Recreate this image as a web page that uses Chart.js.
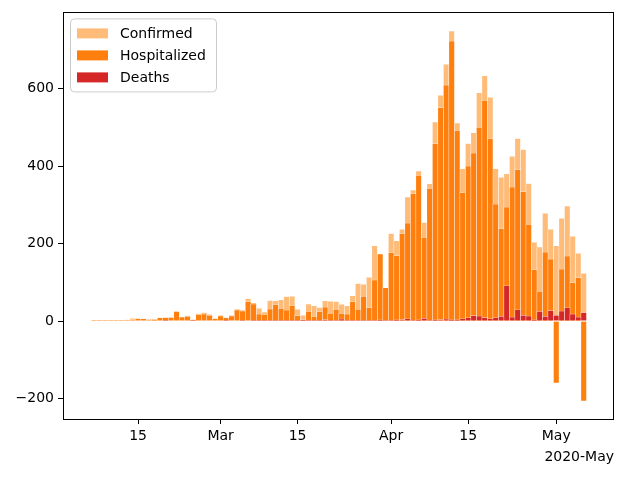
<!DOCTYPE html>
<html>
<head>
  <title>Daily cases</title>
  <script src="https://cdn.jsdelivr.net/npm/chart.js@4/dist/chart.umd.min.js"></script>
  <style>
    html, body { margin: 0; padding: 0; background: #fff; }
    #wrap { width: 626px; height: 477px; position: relative; }
  </style>
</head>
<body>
  <div id="wrap"><canvas id="data-chart"></canvas></div>
  <script>
    // daily values, one per day starting at startDate
    const startDate = '2020-02-07';
    const confirmed = [
      1, 2, 1, 1, 2, 1, 3, 7, 7, 6,
      5, 5, 9, 9, 10, 26, 11, 14, 4, 19,
      22, 17, 7, 15, 9, 15, 31, 28, 58, 47,
      33, 23, 53, 52, 55, 63, 64, 30, 15, 44,
      39, 35, 52, 51, 50, 43, 39, 65, 97, 95,
      113, 194, 173, 86, 226, 207, 237, 320, 338, 387,
      254, 354, 514, 583, 663, 749, 511, 393, 458, 486,
      589, 633, 578, 393, 371, 380, 425, 471, 443, 355,
      203, 191, 278, 237, 194, 265, 297, 219, 175, 123
    ];
    const hospitalized = [
      1, 1, 1, 1, 1, 1, 2, 4, 6, 6,
      4, 3, 8, 9, 9, 24, 10, 12, 3, 16,
      18, 15, 6, 13, 8, 13, 28, 26, 50, 44,
      18, 16, 31, 42, 33, 28, 39, 14, 4, 25,
      11, 24, 36, 20, 30, 20, 18, 50, 30, 64,
      35, 106, 173, 86, 176, 169, 225, 253, 329, 376,
      216, 343, 458, 551, 609, 723, 491, 331, 400, 434,
      500, 570, 471, 302, 238, 294, 346, 391, 334, 250,
      132, 77, 178, 160, -160, 134, 168, 99, 112, -206
    ];
    const deaths = [
      0, 0, 0, 0, 0, 0, 0, 0, 0, 0,
      0, 0, 0, 1, 0, 0, 0, 0, 1, 0,
      0, 0, 0, 0, 1, 0, 0, 1, 0, 1,
      2, 1, 1, 2, 1, 2, 1, 2, 3, 2,
      1, 2, 4, 1, 1, 5, 1, 2, 1, 2,
      1, 2, 3, 1, 2, 3, 4, 6, 2, 3,
      7, 2, 3, 4, 5, 3, 3, 6, 8, 14,
      13, 9, 6, 8, 12, 91, 10, 29, 15, 13,
      3, 25, 12, 27, 15, 26, 34, 18, 10, 22
    ];
    const tickDates = ['2020-02-15', '2020-03-01', '2020-03-15', '2020-04-01', '2020-04-15', '2020-05-01'];
    const tickLabels = ['15', 'Mar', '15', 'Apr', '15', 'May'];
    const yTicks = [-200, 0, 200, 400, 600];

    // x axis works in days since Feb 1
    const dayZero = Date.parse('2020-02-01');
    const dayNum = s => (Date.parse(s) - dayZero) / 86400000;
    const firstDay = dayNum(startDate);
    const toPoints = arr => arr.map((v, i) => ({ x: firstDay + i, y: v }));

    const FONT = '"DejaVu Sans", sans-serif';
    const FSIZE = 14;
    Chart.defaults.font.family = FONT;
    Chart.defaults.font.size = FSIZE;
    Chart.defaults.color = '#000';

    // matplotlib style frame + legend inside the axes
    const framePlugin = {
      id: 'frame',
      afterDatasetsDraw(chart) {
        const { ctx, chartArea: a } = chart;
        ctx.save();
        ctx.strokeStyle = '#000';
        ctx.lineWidth = 1;
        ctx.strokeRect(Math.round(a.left) + 0.5, Math.round(a.top) + 0.5,
          Math.round(a.right - a.left) - 1, Math.round(a.bottom - a.top));

        // legend box
        const x = a.left + 7, y = a.top + 6, w = 146, h = 73;
        ctx.beginPath();
        ctx.roundRect(x + 0.5, y + 0.5, w, h, 4);
        ctx.fillStyle = 'rgba(255,255,255,0.8)';
        ctx.fill();
        ctx.strokeStyle = '#cccccc';
        ctx.stroke();
        ctx.font = FSIZE + 'px ' + FONT;
        ctx.textBaseline = 'middle';
        ctx.textAlign = 'left';
        chart.data.datasets.forEach((ds, i) => {
          const cy = y + 15 + i * 22;
          ctx.fillStyle = ds.backgroundColor;
          ctx.fillRect(x + 7, cy - 5, 31, 10);
          ctx.fillStyle = '#000';
          ctx.fillText(ds.label, x + 50, cy + 1);
        });
        ctx.restore();
      }
    };

    const tickGrid = { display: true, drawOnChartArea: false, drawTicks: true, tickLength: 5, color: '#000', lineWidth: 1, offset: false };

    const ctx = document.getElementById('data-chart').getContext('2d');
    new Chart(ctx, {
      type: 'bar',
      data: {
        datasets: [
          { label: 'Confirmed', data: toPoints(confirmed), backgroundColor: '#ffbb78', order: 3 },
          { label: 'Hospitalized', data: toPoints(hospitalized), backgroundColor: '#ff7f0e', order: 2 },
          { label: 'Deaths', data: toPoints(deaths), backgroundColor: '#d62728', order: 1 },
        ],
      },
      options: {
        responsive: true,
        maintainAspectRatio: false,
        animation: false,
        layout: { padding: { left: 0, top: 12, right: 12, bottom: 0 } },
        datasets: {
          bar: {
            grouped: false,
            barPercentage: 1,
            categoryPercentage: 1,
            borderColor: '#ffffff',
            borderWidth: 0.5,
          },
        },
        plugins: {
          legend: { display: false },
          tooltip: { enabled: false },
        },
        scales: {
          x: {
            type: 'linear',
            offset: false,
            min: 0.36,
            max: 100.5,
            afterBuildTicks: scale => {
              scale.ticks = tickDates.map(d => ({ value: dayNum(d) }));
            },
            afterFit: scale => { scale.height = 58; },
            ticks: {
              autoSkip: false,
              maxRotation: 0,
              padding: 4,
              callback: (value, index) => tickLabels[index],
            },
            grid: tickGrid,
            border: { display: false },
            title: { display: true, text: '2020-May', align: 'end', padding: { top: 0, bottom: 11 } },
          },
          y: {
            min: -253,
            max: 797,
            afterBuildTicks: scale => {
              scale.ticks = yTicks.map(v => ({ value: v }));
            },
            afterFit: scale => { scale.width = 63; },
            ticks: {
              padding: 4,
              callback: v => (v < 0 ? '\u2212' + Math.abs(v) : String(v)),
            },
            grid: tickGrid,
            border: { display: false },
          },
        },
      },
      plugins: [framePlugin],
    });
  </script>
</body>
</html>
